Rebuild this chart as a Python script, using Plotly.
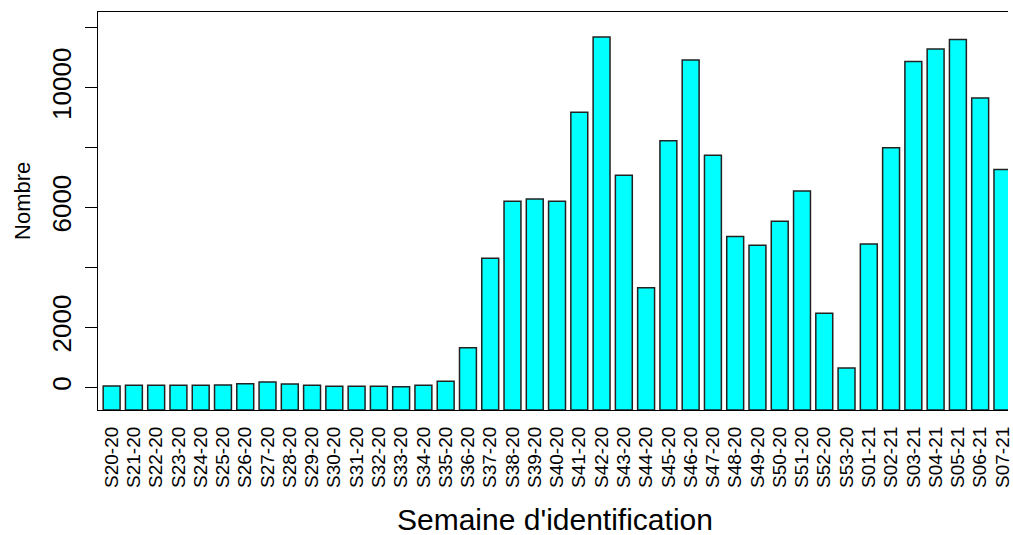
import plotly.graph_objects as go

weeks = ["S20-20", "S21-20", "S22-20", "S23-20", "S24-20", "S25-20", "S26-20", "S27-20",
         "S28-20", "S29-20", "S30-20", "S31-20", "S32-20", "S33-20", "S34-20", "S35-20",
         "S36-20", "S37-20", "S38-20", "S39-20", "S40-20", "S41-20", "S42-20", "S43-20",
         "S44-20", "S45-20", "S46-20", "S47-20", "S48-20", "S49-20", "S50-20", "S51-20",
         "S52-20", "S53-20", "S01-21", "S02-21", "S03-21", "S04-21", "S05-21", "S06-21",
         "S07-21"]
counts = [45, 65, 65, 65, 65, 80, 120, 180, 110, 65, 35, 35, 35, 15, 65, 200,
          1320, 4310, 6210, 6280, 6210, 9180, 11690, 7080, 3320, 8230, 10920, 7740,
          5030, 4740, 5540, 6550, 2470, 640, 4780, 7990, 10870, 11290, 11610, 9650, 7270]
y_tick_vals = [0, 2000, 4000, 6000, 8000, 10000, 12000]
y_tick_text = ["0", "2000", "", "6000", "", "10000", ""]

Y_MIN, Y_MAX = -757.5, 12524
FONT = "Liberation Sans, Arial, sans-serif"

fig = go.Figure(go.Bar(
    x=weeks,
    y=[c - Y_MIN for c in counts],
    base=Y_MIN,
    width=0.76,
    marker=dict(color="#00FFFF", line=dict(color="#222222", width=1.5)),
    hoverinfo="skip",
))

fig.update_layout(
    width=1013, height=535,
    margin=dict(l=98, r=0, t=12, b=125),
    paper_bgcolor="white", plot_bgcolor="white",
    showlegend=False,
    font=dict(family=FONT, color="black"),
    xaxis=dict(
        type="category",
        range=[-0.612, 40.25],
        tickmode="array", tickvals=weeks, ticktext=weeks,
        tickangle=-90,
        tickfont=dict(size=19, family=FONT, color="black"),
        ticks="", ticklabelstandoff=8,
        showline=True, linecolor="black", linewidth=1.2, mirror=True,
        showgrid=False, zeroline=False,
    ),
    yaxis=dict(
        range=[Y_MIN, Y_MAX],
        tickmode="array", tickvals=y_tick_vals, ticktext=y_tick_text,
        tickangle=-90,
        tickfont=dict(size=26, family=FONT, color="black"),
        ticks="outside", ticklen=12, tickwidth=1.2, tickcolor="black",
        ticklabelstandoff=4,
        showline=True, linecolor="black", linewidth=1.2, mirror=False,
        showgrid=False, zeroline=False,
    ),
    annotations=[
        dict(text="Semaine d'identification", xref="paper", yref="paper",
             x=(558 - 98) / 915, y=(410 - 519) / 398, xanchor="center", yanchor="middle",
             showarrow=False, font=dict(size=30, family=FONT, color="black")),
        dict(text="Nombre", xref="paper", yref="paper",
             x=(22 - 98) / 915, y=(410 - 200.5) / 398, xanchor="center", yanchor="middle",
             textangle=-90, showarrow=False, font=dict(size=22, family=FONT, color="black")),
    ],
)

fig.write_html(
    "out.html",
    config={"displayModeBar": False},
    post_script="document.body.style.margin='0';document.body.style.overflow='hidden';",
)
